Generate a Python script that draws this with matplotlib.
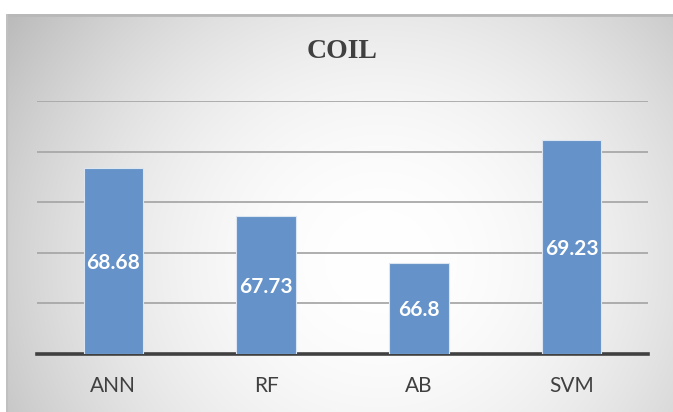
import numpy as np
import matplotlib
matplotlib.use("Agg")
import matplotlib.pyplot as plt

categories = ["ANN", "RF", "AB", "SVM"]
values = [68.68, 67.73, 66.8, 69.23]
title = "COIL"

W, H, DPI = 673, 412, 100
fig = plt.figure(figsize=(W / DPI, H / DPI), dpi=DPI, facecolor="white")

# chart area with radial gray-to-white gradient
cx0, cy0 = 6, 14  # chart area top-left in pixels
bg = fig.add_axes([cx0 / W, 0, 1 - cx0 / W, 1 - cy0 / H])
bw, bh = W - cx0, H - cy0
yy, xx = np.mgrid[0:bh, 0:bw]
r = np.sqrt(((xx - bw * 0.56) / (bw * 0.6)) ** 2 + ((yy - bh * 0.62) / (bh * 0.95)) ** 2)
shade = 1.0 - 0.21 * np.clip(r, 0, 1.2) ** 2
img = np.dstack([shade, shade, shade])
bg.imshow(img, aspect="auto", extent=[0, bw, bh, 0], interpolation="bilinear")
bg.set_xlim(0, bw)
bg.set_ylim(bh, 0)
bg.axis("off")
bg.plot([0, bw], [0.5, 0.5], color="#b8b8b8", lw=2)
bg.plot([0.7, 0.7], [0, bh], color="#c0c0c0", lw=1.5)

# plot area
px0, px1 = 37, 648
py_top, py_bot = 101, 354
ax = fig.add_axes([px0 / W, 1 - py_bot / H, (px1 - px0) / W, (py_bot - py_top) / H])
ax.patch.set_alpha(0)
ax.set_ylim(65, 70)
ax.set_xlim(-0.5, len(categories) - 0.5)
ax.set_yticks([66, 67, 68, 69, 70])
ax.yaxis.grid(True, color="#a8a8a8", lw=1.3)
ax.set_axisbelow(True)
ax.tick_params(axis="y", left=False, labelleft=False)
ax.tick_params(axis="x", bottom=False, labelsize=15, labelcolor="#404040", pad=12)
for s in ["left", "right", "top"]:
    ax.spines[s].set_visible(False)
ax.spines["bottom"].set_color("#404040")
ax.spines["bottom"].set_linewidth(2.6)

x = np.arange(len(categories))
bars = ax.bar(x, [v - 65 for v in values], bottom=65, width=0.39,
              color="#6592c8", edgecolor="#dce6f2", linewidth=0.8, zorder=3)
ax.set_xticks(x)
ax.set_xticklabels(categories, fontfamily="Lato")

for xi, v in zip(x, values):
    ax.text(xi, (65 + v) / 2, f"{v:g}", ha="center", va="center_baseline", color="white",
            fontsize=15, fontweight="bold", fontfamily="Lato", zorder=4)

fig.text(0.509, 1 - 52 / H, title, ha="center", va="center", fontsize=20,
         fontweight="bold", fontfamily="Liberation Serif", color="#404040")

fig.savefig("out.png", dpi=DPI, facecolor="white")
